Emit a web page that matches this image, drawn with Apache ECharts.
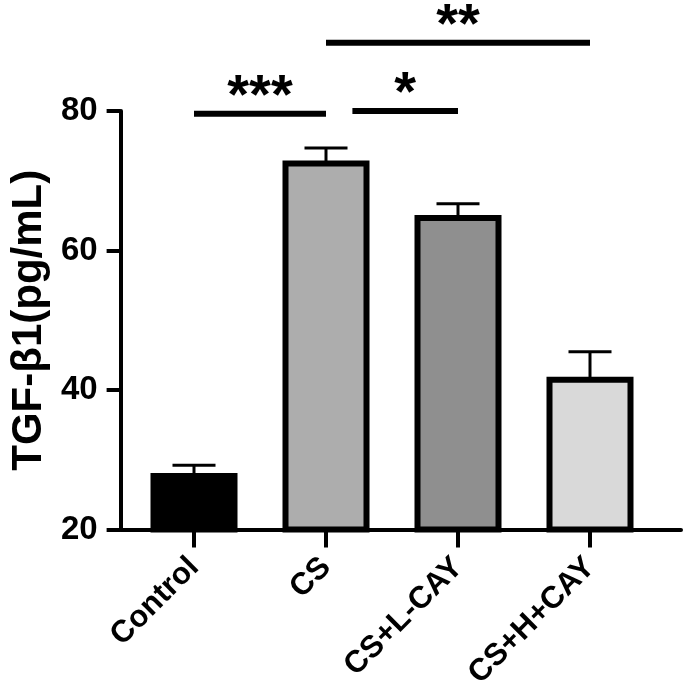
<!DOCTYPE html>
<html>
<head>
<meta charset="utf-8">
<script src="https://cdn.jsdelivr.net/npm/echarts@6/dist/echarts.min.js"></script>
<style>
html,body{margin:0;padding:0;background:#fff;}
#chart{width:685px;height:694px;}
</style>
</head>
<body>
<div id="chart"></div>
<script>
const categories = ['Control', 'CS', 'CS+L-CAY', 'CS+H+CAY'];
const means = [28.1, 72.9, 65.1, 41.9];
const errors = [1.1, 1.8, 1.6, 3.6];
const barColors = ['#000000', '#adadad', '#8f8f8f', '#d9d9d9'];
const yMin = 20, yMax = 80, yInterval = 20;
const yName = 'TGF-β1(pg/mL)';
const sigFrom = [0, 1.2, 1];
const sigTo = [1, 2, 3];
const sigLevel = [79.6, 80.0, 89.8];
const sigLabels = ['***', '*', '**'];

const FONT = 'Liberation Sans, Arial, sans-serif';
const chart = echarts.init(document.getElementById('chart'), null, {renderer: 'canvas'});

function xAt(api, idx, v) {
  const base = Math.floor(idx);
  const frac = idx - base;
  const p = api.coord([base, v]);
  const band = api.size([1, 0])[0];
  return [p[0] + frac * band, p[1]];
}

const option = {
  backgroundColor: '#ffffff',
  animation: false,
  grid: [
    {left: 107, right: 4, top: 111, bottom: 164.5},
    {left: 128, width: 528, top: 111, bottom: 164.5}
  ],
  xAxis: [
    {type: 'value', gridIndex: 0, min: 0, max: 1, show: true,
      axisLine: {show: true, lineStyle: {color: '#000', width: 4}},
      axisTick: {show: false}, axisLabel: {show: false}, splitLine: {show: false}},
    {type: 'category', gridIndex: 1, data: categories,
      axisLine: {show: true, lineStyle: {color: '#000', width: 4}},
      axisTick: {show: true, alignWithLabel: true, length: 18, lineStyle: {color: '#000', width: 4}},
      axisLabel: {rotate: 45, margin: 33, color: '#000', fontFamily: FONT, fontWeight: 'bold', fontSize: 31},
      splitLine: {show: false}}
  ],
  yAxis: [
    {type: 'value', gridIndex: 0, min: yMin, max: yMax, interval: yInterval,
      name: yName, nameLocation: 'middle', nameGap: 62,
      nameTextStyle: {color: '#000', fontFamily: FONT, fontWeight: 'bold', fontSize: 42},
      axisLine: {show: true, lineStyle: {color: '#000', width: 4}},
      axisTick: {show: true, length: 14, lineStyle: {color: '#000', width: 4}},
      axisLabel: {margin: 23, color: '#000', fontFamily: FONT, fontWeight: 'bold', fontSize: 33},
      splitLine: {show: false}},
    {type: 'value', gridIndex: 1, min: yMin, max: yMax, interval: yInterval, show: false,
      splitLine: {show: false}}
  ],
  series: [
    {type: 'bar', xAxisIndex: 1, yAxisIndex: 1, barWidth: 87,
      data: means.map((m, i) => ({value: m, itemStyle: {color: barColors[i], borderColor: '#000', borderWidth: 6}})),
      z: 2},
    {type: 'custom', xAxisIndex: 1, yAxisIndex: 1, z: 3,
      data: means.map((m, i) => [i, m, m + errors[i]]),
      renderItem: function (params, api) {
        const base = api.coord([api.value(0), api.value(1)]);
        const top = api.coord([api.value(0), api.value(2)]);
        const hw = 21.5;
        return {type: 'group', children: [
          {type: 'line', shape: {x1: top[0], y1: top[1], x2: base[0], y2: base[1] + 2}, style: {stroke: '#000', lineWidth: 3}},
          {type: 'line', shape: {x1: top[0] - hw, y1: top[1], x2: top[0] + hw, y2: top[1]}, style: {stroke: '#000', lineWidth: 3}}
        ]};
      }},
    {type: 'custom', xAxisIndex: 1, yAxisIndex: 1, z: 4, clip: false,
      data: sigLabels.map((s, i) => [sigFrom[i], sigTo[i], sigLevel[i]]),
      renderItem: function (params, api) {
        const i = params.dataIndex;
        const a = xAt(api, api.value(0), api.value(2));
        const b = xAt(api, api.value(1), api.value(2));
        const mid = (a[0] + b[0]) / 2;
        return {type: 'group', children: [
          {type: 'rect', shape: {x: a[0], y: a[1] - 3, width: b[0] - a[0], height: 6}, style: {fill: '#000'}},
          {type: 'text', x: mid, y: a[1] - 16, style: {text: sigLabels[i], fill: '#000', font: 'bold 56px ' + FONT, align: 'center', verticalAlign: 'middle'}}
        ]};
      }}
  ]
};
chart.setOption(option);
</script>
</body>
</html>
